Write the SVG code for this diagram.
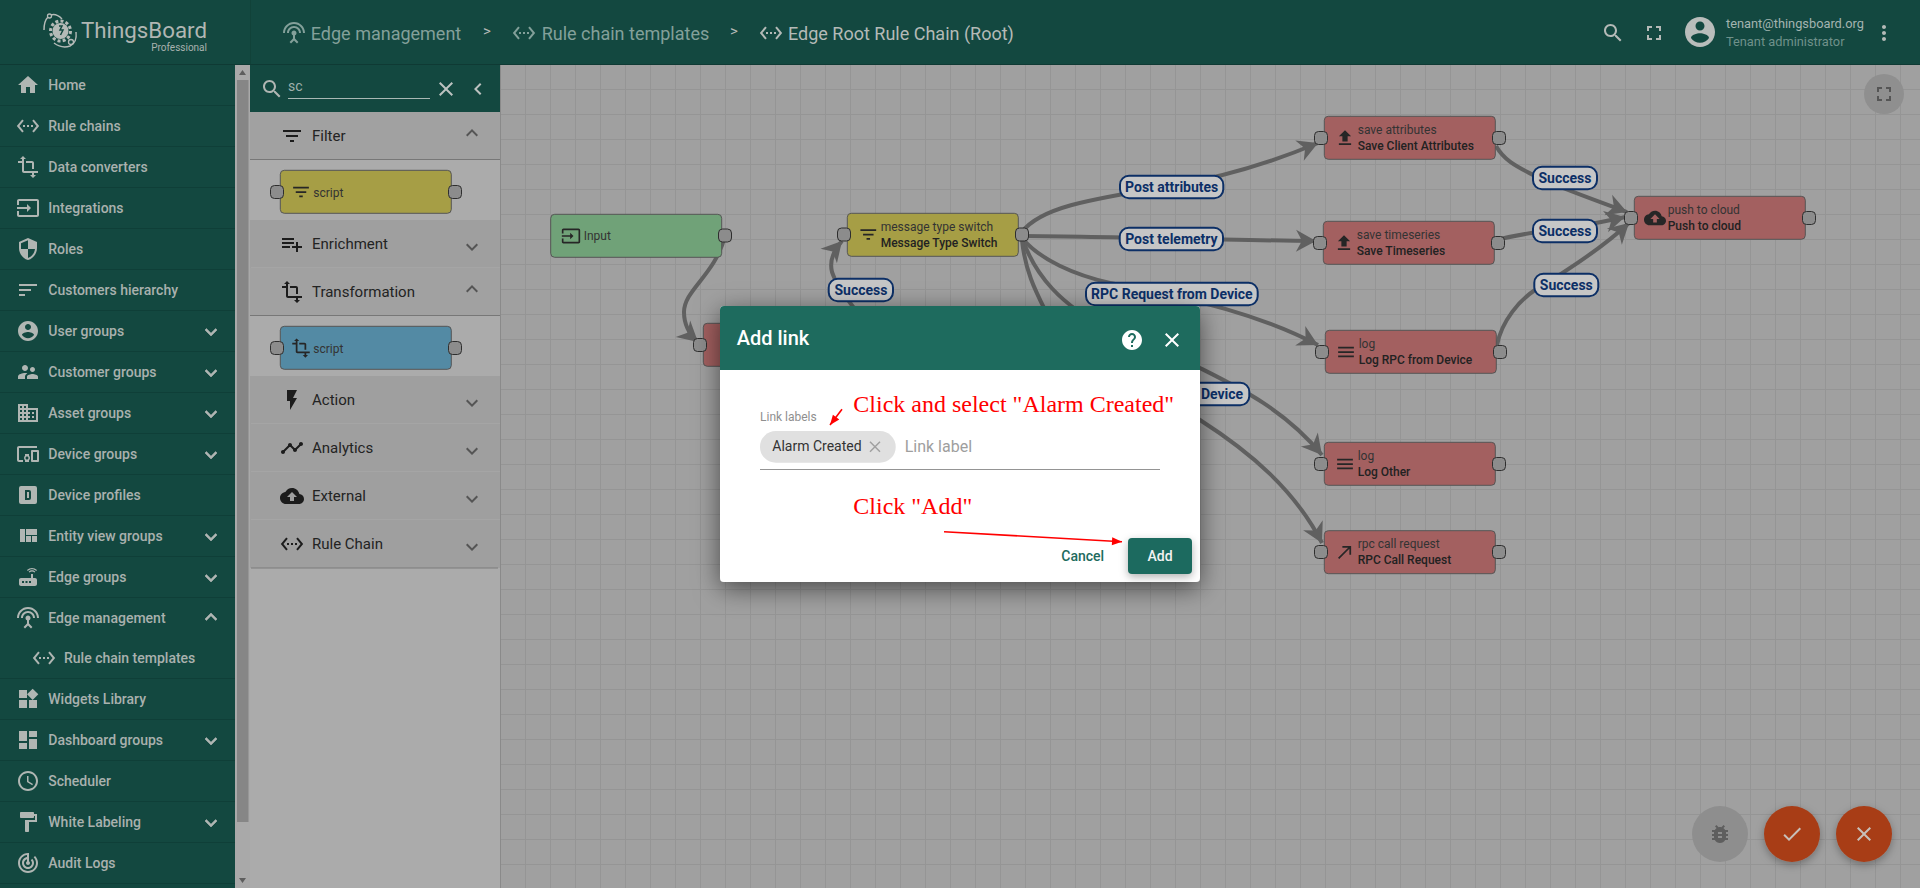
<svg xmlns="http://www.w3.org/2000/svg" width="1920" height="888" viewBox="0 0 1920 888">
<style>
text{font-family:Roboto,"Liberation Sans",sans-serif}
.nav{font-size:14px;font-weight:500;fill:#a9b1ae}
.sep{stroke:#0f3f38;stroke-width:1}
.ic{fill:#b0b6b3}
.chev{fill:#b0b6b3;stroke:#b0b6b3;stroke-width:.6}
.cat{font-size:15px;fill:#232323}
.ci{fill:#1c1c1c}
.cv{fill:#555}
.port{fill:#8c8c8c;stroke:#2e2e2e;stroke-width:1}
.nbody{stroke:#555;stroke-width:1}
.red{fill:#a36060}.yel{fill:#a69e45}.grn{fill:#70a278}.blu{fill:#538aa4}
.t1{font-size:12px;fill:#333}
.t2{font-size:12px;font-weight:500;fill:#222}
.ni{fill:#262626}
.edge{fill:none;stroke:#606060;stroke-width:4;marker-end:url(#ah)}
.lab rect{fill:#c6c6c6;stroke:#0c2f66;stroke-width:2}
.lab text{font-size:14px;font-weight:700;fill:#0c2f66;text-anchor:middle}
.note{font-family:"Liberation Serif",serif;font-size:24px;fill:#f00}
.anno{stroke:#f00;fill:none;stroke-width:1.6}
</style>
<defs>
<pattern id="grid" x="0" y="14" width="25" height="25" patternUnits="userSpaceOnUse"><path d="M0 .5H25M.5 0V25" fill="none" stroke="#959595" stroke-width="1"/></pattern>
<marker id="ah" markerUnits="userSpaceOnUse" orient="auto" markerWidth="24" markerHeight="26" refX="20" refY="12" overflow="visible"><path d="M20 12L0 1L6 12L0 23z" fill="#606060"/></marker>
<marker id="rh" markerUnits="userSpaceOnUse" orient="auto" markerWidth="12" markerHeight="10" refX="10" refY="4" overflow="visible"><path d="M10 4L0 0L0 8z" fill="#f00"/></marker>
<filter id="dlg" x="-15%" y="-20%" width="130%" height="140%"><feDropShadow dx="0" dy="6" stdDeviation="13" flood-color="#000" flood-opacity=".55"/></filter>
<filter id="fab" x="-30%" y="-30%" width="160%" height="170%"><feDropShadow dx="0" dy="3" stdDeviation="4" flood-color="#000" flood-opacity=".3"/></filter>
<symbol id="home" viewBox="0 0 24 24"><path d="M10 20v-6h4v6h5v-8h3L12 3 2 12h3v8z"/></symbol>
<symbol id="eth" viewBox="0 0 24 24"><path d="M7.77 6.76L6.23 5.48.82 12l5.41 6.52 1.54-1.28L3.42 12l4.35-5.24zM7 13h2v-2H7v2zm10-2h-2v2h2v-2zm-6 2h2v-2h-2v2zm6.77-7.52l-1.54 1.28L20.58 12l-4.35 5.24 1.54 1.28L23.18 12l-5.41-6.52z"/></symbol>
<symbol id="transform" viewBox="0 0 24 24"><path d="M22 18v-2H8V4h2L7 1 4 4h2v2H2v2h4v8c0 1.1.9 2 2 2h8v2h-2l3 3 3-3h-2v-2h4zM10 8h6v6h2V8c0-1.1-.9-2-2-2h-6v2z"/></symbol>
<symbol id="input" viewBox="0 0 24 24"><path d="M21 3.01H3c-1.1 0-2 .9-2 2V9h2V4.99h18v14.03H3V15H1v4.01c0 1.1.9 1.98 2 1.98h18c1.1 0 2-.88 2-1.98v-14c0-1.11-.9-2-2-2zM11 16l4-4-4-4v3H1v2h10v3z"/></symbol>
<symbol id="security" viewBox="0 0 24 24"><path d="M12 1L3 5v6c0 5.55 3.84 10.74 9 12 5.16-1.26 9-6.45 9-12V5l-9-4zm0 10.99h7c-.53 4.12-3.28 7.79-7 8.94V12H5V6.3l7-3.11v8.8z"/></symbol>
<symbol id="sort" viewBox="0 0 24 24"><path d="M3 18h6v-2H3v2zM3 6v2h18V6H3zm0 7h12v-2H3v2z"/></symbol>
<symbol id="acct" viewBox="0 0 24 24"><path d="M12 2C6.48 2 2 6.48 2 12s4.48 10 10 10 10-4.48 10-10S17.52 2 12 2zm0 3c1.66 0 3 1.34 3 3s-1.34 3-3 3-3-1.34-3-3 1.34-3 3-3zm0 14.2c-2.5 0-4.71-1.28-6-3.22.03-1.99 4-3.08 6-3.08 1.99 0 5.97 1.09 6 3.08-1.29 1.94-3.5 3.22-6 3.22z"/></symbol>
<symbol id="super" viewBox="0 0 24 24"><path d="M16.5 12c1.38 0 2.49-1.12 2.49-2.5S17.88 7 16.5 7C15.12 7 14 8.12 14 9.5s1.12 2.5 2.5 2.5zM9 11c1.66 0 2.99-1.34 2.99-3S10.66 5 9 5C7.34 5 6 6.34 6 8s1.34 3 3 3zm7.5 3c-1.83 0-5.5.92-5.5 2.75V19h11v-2.25c0-1.83-3.67-2.75-5.5-2.75zM9 13c-2.33 0-7 1.17-7 3.5V19h7v-2.25c0-.85.33-2.34 2.37-3.47C10.5 13.1 9.66 13 9 13z"/></symbol>
<symbol id="domain" viewBox="0 0 24 24"><path d="M12 7V3H2v18h20V7H12zM6 19H4v-2h2v2zm0-4H4v-2h2v2zm0-4H4V9h2v2zm0-4H4V5h2v2zm4 12H8v-2h2v2zm0-4H8v-2h2v2zm0-4H8V9h2v2zm0-4H8V5h2v2zm10 12h-8v-2h2v-2h-2v-2h2v-2h-2V9h8v10zm-2-8h-2v2h2v-2zm0 4h-2v2h2v-2z"/></symbol>
<symbol id="devices" viewBox="0 0 24 24"><path d="M3 6h18V4H3c-1.1 0-2 .9-2 2v12c0 1.1.9 2 2 2h4v-2H3V6zm10 6H9v1.78c-.61.55-1 1.33-1 2.22s.39 1.67 1 2.22V20h4v-1.78c.61-.55 1-1.34 1-2.22s-.39-1.67-1-2.22V12zm-2 5.5c-.83 0-1.5-.67-1.5-1.5s.67-1.5 1.5-1.5 1.5.67 1.5 1.5-.67 1.5-1.5 1.5zM22 8h-6c-.5 0-1 .5-1 1v10c0 .5.5 1 1 1h6c.5 0 1-.5 1-1V9c0-.5-.5-1-1-1zm-1 10h-4v-8h4v8z"/></symbol>
<symbol id="dbox" viewBox="0 0 24 24"><path fill-rule="evenodd" d="M5 3h14a2 2 0 0 1 2 2v14a2 2 0 0 1-2 2H5a2 2 0 0 1-2-2V5a2 2 0 0 1 2-2zm4 4v10h4a2 2 0 0 0 2-2V9a2 2 0 0 0-2-2H9zm2 2h2v6h-2V9z"/></symbol>
<symbol id="quilt" viewBox="0 0 24 24"><path d="M10 18h5v-6h-5v6zm-6 0h5V5H4v13zm12 0h5v-6h-5v6zM10 5v6h11V5H10z"/></symbol>
<symbol id="router" viewBox="0 0 24 24"><path d="M20.2 5.9l.8-.8C19.6 3.7 17.8 3 16 3s-3.6.7-5 2.1l.8.8C13 4.8 14.5 4.2 16 4.2s3 .6 4.2 1.7zm-.9.8c-.9-.9-2.1-1.4-3.3-1.4s-2.4.5-3.3 1.4l.8.8c.7-.7 1.6-1 2.5-1 .9 0 1.8.3 2.5 1l.8-.8zM19 13h-2V9h-2v4H5c-1.1 0-2 .9-2 2v4c0 1.1.9 2 2 2h14c1.1 0 2-.9 2-2v-4c0-1.1-.9-2-2-2zM8 18H6v-2h2v2zm3.5 0h-2v-2h2v2zm3.5 0h-2v-2h2v2z"/></symbol>
<symbol id="antenna" viewBox="0 0 24 24"><path d="M12 5c-3.87 0-7 3.13-7 7h2c0-2.76 2.24-5 5-5s5 2.24 5 5h2c0-3.87-3.13-7-7-7zm1 9.29c.88-.39 1.5-1.26 1.5-2.29 0-1.38-1.12-2.5-2.5-2.5S9.5 10.62 9.5 12c0 1.02.62 1.9 1.5 2.29v3.3L7.59 21 9 22.41l3-3 3 3L16.41 21 13 17.59v-3.3zM12 1C5.93 1 1 5.93 1 12h2c0-4.97 4.03-9 9-9s9 4.03 9 9h2c0-6.07-4.93-11-11-11z"/></symbol>
<symbol id="widgets" viewBox="0 0 24 24"><path d="M13 13v8h8v-8h-8zM3 21h8v-8H3v8zM3 3v8h8V3H3zm13.66-1.31L11 7.34 16.66 13l5.66-5.66-5.66-5.65z"/></symbol>
<symbol id="dash" viewBox="0 0 24 24"><path d="M3 13h8V3H3v10zm0 8h8v-6H3v6zm10 0h8V11h-8v10zm0-18v6h8V3h-8z"/></symbol>
<symbol id="sched" viewBox="0 0 24 24"><path d="M11.99 2C6.47 2 2 6.48 2 12s4.47 10 9.99 10C17.52 22 22 17.52 22 12S17.52 2 11.99 2zM12 20c-4.42 0-8-3.58-8-8s3.58-8 8-8 8 3.58 8 8-3.58 8-8 8zm.5-13H11v6l5.25 3.15.75-1.23-4.5-2.67z"/></symbol>
<symbol id="paint" viewBox="0 0 24 24"><path d="M18 4V3c0-.55-.45-1-1-1H5c-.55 0-1 .45-1 1v4c0 .55.45 1 1 1h12c.55 0 1-.45 1-1V6h1v4H9v11c0 .55.45 1 1 1h2c.55 0 1-.45 1-1v-9h8V4h-3z"/></symbol>
<symbol id="track" viewBox="0 0 24 24"><path d="M19.07 4.93l-1.41 1.41C19.1 7.79 20 9.79 20 12c0 4.42-3.58 8-8 8s-8-3.58-8-8c0-4.08 3.05-7.44 7-7.93v2.02C8.16 6.57 6 9.03 6 12c0 3.31 2.69 6 6 6s6-2.69 6-6c0-1.66-.67-3.16-1.76-4.24l-1.41 1.41C15.55 9.9 16 10.9 16 12c0 2.21-1.79 4-4 4s-4-1.79-4-4c0-1.86 1.28-3.41 3-3.86v2.14c-.6.35-1 .98-1 1.72 0 1.1.9 2 2 2s2-.9 2-2c0-.74-.4-1.38-1-1.72V2h-1C6.48 2 2 6.48 2 12s4.48 10 10 10 10-4.48 10-10c0-2.76-1.12-5.26-2.93-7.07z"/></symbol>
<symbol id="more" viewBox="0 0 24 24"><path d="M16.59 8.59L12 13.17 7.41 8.59 6 10l6 6 6-6z"/></symbol>
<symbol id="less" viewBox="0 0 24 24"><path d="M12 8l-6 6 1.41 1.41L12 10.83l4.59 4.58L18 14z"/></symbol>
<symbol id="filter" viewBox="0 0 24 24"><path d="M10 18h4v-2h-4v2zM3 6v2h18V6H3zm3 7h12v-2H6v2z"/></symbol>
<symbol id="padd" viewBox="0 0 24 24"><path d="M14 10H2v2h12v-2zm0-4H2v2h12V6zm4 8v-4h-2v4h-4v2h4v4h2v-4h4v-2h-4zM2 16h8v-2H2v2z"/></symbol>
<symbol id="flash" viewBox="0 0 24 24"><path d="M7 2v11h3v9l7-12h-4l4-8z"/></symbol>
<symbol id="timeline" viewBox="0 0 24 24"><path d="M23 8c0 1.1-.9 2-2 2-.18 0-.35-.02-.51-.07l-3.56 3.55c.05.16.07.34.07.52 0 1.1-.9 2-2 2s-2-.9-2-2c0-.18.02-.36.07-.52l-2.55-2.55c-.16.05-.34.07-.52.07s-.36-.02-.52-.07l-4.55 4.56c.05.16.07.33.07.51 0 1.1-.9 2-2 2s-2-.9-2-2 .9-2 2-2c.18 0 .35.02.51.07l4.56-4.55C8.02 9.36 8 9.18 8 9c0-1.1.9-2 2-2s2 .9 2 2c0 .18-.02.36-.07.52l2.55 2.55c.16-.05.34-.07.52-.07s.36.02.52.07l3.55-3.56C19.02 8.35 19 8.18 19 8c0-1.1.9-2 2-2s2 .9 2 2z"/></symbol>
<symbol id="cloud" viewBox="0 0 24 24"><path d="M19.35 10.04C18.67 6.59 15.64 4 12 4 9.11 4 6.6 5.64 5.35 8.04 2.34 8.36 0 10.91 0 14c0 3.31 2.69 6 6 6h13c2.76 0 5-2.24 5-5 0-2.64-2.05-4.78-4.65-4.96zM14 13v4h-4v-4H7l5-5 5 5h-3z"/></symbol>
<symbol id="search" viewBox="0 0 24 24"><path d="M15.5 14h-.79l-.28-.27C15.41 12.59 16 11.11 16 9.5 16 5.91 13.09 3 9.5 3S3 5.91 3 9.5 5.91 16 9.5 16c1.61 0 3.09-.59 4.23-1.57l.27.28v.79l5 4.99L20.49 19l-4.99-5zm-6 0C7.01 14 5 11.99 5 9.5S7.01 5 9.5 5 14 7.01 14 9.5 11.99 14 9.5 14z"/></symbol>
<symbol id="close" viewBox="0 0 24 24"><path d="M19 6.41L17.59 5 12 10.59 6.41 5 5 6.41 10.59 12 5 17.59 6.41 19 12 13.41 17.59 19 19 17.59 13.41 12z"/></symbol>
<symbol id="cleft" viewBox="0 0 24 24"><path d="M15.41 7.41L14 6l-6 6 6 6 1.41-1.41L10.83 12z"/></symbol>
<symbol id="full" viewBox="0 0 24 24"><path d="M7 14H5v5h5v-2H7v-3zm-2-4h2V7h3V5H5v5zm12 7h-3v2h5v-5h-2v3zM14 5v2h3v3h2V5h-5z"/></symbol>
<symbol id="vert" viewBox="0 0 24 24"><path d="M12 8c1.1 0 2-.9 2-2s-.9-2-2-2-2 .9-2 2 .9 2 2 2zm0 2c-1.1 0-2 .9-2 2s.9 2 2 2 2-.9 2-2-.9-2-2-2zm0 6c-1.1 0-2 .9-2 2s.9 2 2 2 2-.9 2-2-.9-2-2-2z"/></symbol>
<symbol id="upload" viewBox="0 0 24 24"><path d="M9 16h6v-6h4l-7-7-7 7h4zm-4 2h14v2H5z"/></symbol>
<symbol id="menu" viewBox="0 0 24 24"><path d="M3 18h18v-2H3v2zm0-5h18v-2H3v2zm0-7v2h18V6H3z"/></symbol>
<symbol id="callm" viewBox="0 0 24 24"><path d="M9 5v2h6.59L4 18.59 5.41 20 17 8.41V15h2V5z"/></symbol>
<symbol id="help" viewBox="0 0 24 24"><path d="M12 2C6.48 2 2 6.48 2 12s4.48 10 10 10 10-4.48 10-10S17.52 2 12 2zm1 17h-2v-2h2v2zm2.07-7.75l-.9.92C13.45 12.9 13 13.5 13 15h-2v-.5c0-1.1.45-2.1 1.17-2.83l1.24-1.26c.37-.36.59-.86.59-1.41 0-1.1-.9-2-2-2s-2 .9-2 2H8c0-2.21 1.79-4 4-4s4 1.79 4 4c0 .88-.36 1.68-.93 2.25z"/></symbol>
<symbol id="bug" viewBox="0 0 24 24"><path d="M20 8h-2.81c-.45-.78-1.07-1.45-1.82-1.96L17 4.41 15.59 3l-2.17 2.17C12.96 5.06 12.49 5 12 5c-.49 0-.96.06-1.41.17L8.41 3 7 4.41l1.62 1.63C7.88 6.55 7.26 7.22 6.81 8H4v2h2.09c-.05.33-.09.66-.09 1v1H4v2h2v1c0 .34.04.67.09 1H4v2h2.81c1.04 1.79 2.97 3 5.19 3s4.15-1.21 5.19-3H20v-2h-2.09c.05-.33.09-.66.09-1v-1h2v-2h-2v-1c0-.34-.04-.67-.09-1H20V8zm-6 8h-4v-2h4v2zm0-4h-4v-2h4v2z"/></symbol>
<symbol id="done" viewBox="0 0 24 24"><path d="M9 16.17L4.83 12l-1.42 1.41L9 19 21 7l-1.41-1.41z"/></symbol>
</defs>

<rect id="canvas" x="500" y="64" width="1420" height="824" fill="#a0a0a0"/>
<rect x="500" y="64" width="1420" height="824" fill="url(#grid)"/>

<g id="connectors">
<path class="edge" d="M725 236C715 275 684 290 684 312C684 325 690 335 698 342"/>
<path class="edge" d="M880 345C860 312 840 295 832 272C829 260 834 250 842 241"/>
<path class="edge" d="M1022 232C1040 208 1085 200 1170 186C1225 177 1270 163 1318 143"/>
<path class="edge" d="M1022 236C1080 236 1220 240 1316 241"/>
<path class="edge" d="M1022 238C1040 260 1075 275 1110 283C1200 300 1260 315 1318 345"/>
<path class="edge" d="M1022 238C1035 275 1060 305 1110 330C1140 344 1170 353 1200 368C1240 388 1285 410 1322 455"/>
<path class="edge" d="M1022 240C1025 270 1035 290 1045 310C1100 350 1150 388 1200 420C1250 452 1295 490 1322 543"/>
<path class="edge" d="M1496 146C1505 162 1520 168 1535 176C1555 186 1595 200 1627 212"/>
<path class="edge" d="M1498 240C1520 232 1570 230 1625 217"/>
<path class="edge" d="M1497 345C1502 320 1520 300 1535 290C1560 275 1600 250 1629 223"/>
</g>

<g id="node-input"><rect class="nbody grn" x="550.7" y="214.3" width="171" height="43" rx="4"/><rect class="port" x="718.5" y="229" width="13" height="13" rx="4"/><use href="#input" x="561" y="226" width="20" height="20" class="ni"/><text class="t1" x="583.7" y="240">Input</text></g>
<g id="node-hidden"><rect class="nbody red" x="703.3" y="323.3" width="171" height="43" rx="4"/><rect class="port" x="693.5" y="338.5" width="13" height="13" rx="4"/></g>
<g id="node-switch"><rect class="nbody yel" x="847.3" y="213.3" width="171" height="43" rx="4"/><rect class="port" x="837.5" y="228" width="13" height="13" rx="4"/><rect class="port" x="1015.5" y="228" width="13" height="13" rx="4"/><use href="#filter" x="857.8" y="224" width="21" height="21" class="ni"/><text class="t1" x="880.7" y="231">message type switch</text><text class="t2" x="880.7" y="247">Message Type Switch</text></g>
<g id="node-attrs"><rect class="nbody red" x="1324.3" y="116.3" width="171" height="43" rx="4"/><rect class="port" x="1314.5" y="131.5" width="13" height="13" rx="4"/><rect class="port" x="1492.5" y="131.5" width="13" height="13" rx="4"/><use href="#upload" x="1334.5" y="127.5" width="21" height="21" class="ni"/><text class="t1" x="1357.7" y="134">save attributes</text><text class="t2" x="1357.7" y="150">Save Client Attributes</text></g>
<g id="node-ts"><rect class="nbody red" x="1323.3" y="221.3" width="171" height="43" rx="4"/><rect class="port" x="1313.5" y="236.5" width="13" height="13" rx="4"/><rect class="port" x="1491.5" y="236.5" width="13" height="13" rx="4"/><use href="#upload" x="1333.5" y="232.5" width="21" height="21" class="ni"/><text class="t1" x="1356.7" y="239">save timeseries</text><text class="t2" x="1356.7" y="255">Save Timeseries</text></g>
<g id="node-logrpc"><rect class="nbody red" x="1325.3" y="330.3" width="171" height="43" rx="4"/><rect class="port" x="1315.5" y="345.5" width="13" height="13" rx="4"/><rect class="port" x="1493.5" y="345.5" width="13" height="13" rx="4"/><use href="#menu" x="1335.5" y="341.5" width="21" height="21" class="ni"/><text class="t1" x="1358.7" y="348">log</text><text class="t2" x="1358.7" y="364">Log RPC from Device</text></g>
<g id="node-logother"><rect class="nbody red" x="1324.3" y="442.3" width="171" height="43" rx="4"/><rect class="port" x="1314.5" y="457.5" width="13" height="13" rx="4"/><rect class="port" x="1492.5" y="457.5" width="13" height="13" rx="4"/><use href="#menu" x="1334.5" y="453.5" width="21" height="21" class="ni"/><text class="t1" x="1357.7" y="460">log</text><text class="t2" x="1357.7" y="476">Log Other</text></g>
<g id="node-rpccall"><rect class="nbody red" x="1324.3" y="530.7" width="171" height="43" rx="4"/><rect class="port" x="1314.5" y="545.5" width="13" height="13" rx="4"/><rect class="port" x="1492.5" y="545.5" width="13" height="13" rx="4"/><use href="#callm" x="1334.5" y="541.5" width="21" height="21" class="ni"/><text class="t1" x="1357.7" y="548">rpc call request</text><text class="t2" x="1357.7" y="564">RPC Call Request</text></g>
<g id="node-push"><rect class="nbody red" x="1634.3" y="196.3" width="171" height="43" rx="4"/><rect class="port" x="1624.5" y="211.5" width="13" height="13" rx="4"/><rect class="port" x="1802.5" y="211.5" width="13" height="13" rx="4"/><use href="#cloud" x="1644" y="207" width="22" height="22" class="ni"/><text class="t1" x="1667.7" y="214">push to cloud</text><text class="t2" x="1667.7" y="230">Push to cloud</text></g>

<g id="edge-labels">
<g class="lab"><rect x="828.7" y="278.7" width="64.3" height="22.6" rx="9"/><text x="861" y="295">Success</text></g>
<g class="lab"><rect x="1120" y="175.7" width="103.3" height="22.6" rx="9"/><text x="1171.7" y="192">Post attributes</text></g>
<g class="lab"><rect x="1119.7" y="227.7" width="103.3" height="22.6" rx="9"/><text x="1171.4" y="244">Post telemetry</text></g>
<g class="lab"><rect x="1086" y="282.7" width="171.7" height="22.6" rx="9"/><text x="1171.8" y="299">RPC Request from Device</text></g>
<g class="lab"><rect x="1100" y="382.7" width="149.3" height="22.6" rx="9"/><text x="1222" y="399">Device</text></g>
<g class="lab"><rect x="1533" y="166.7" width="64" height="22.6" rx="9"/><text x="1565" y="183">Success</text></g>
<g class="lab"><rect x="1533" y="219.7" width="64" height="22.6" rx="9"/><text x="1565" y="236">Success</text></g>
<g class="lab"><rect x="1534.3" y="273.7" width="64" height="22.6" rx="9"/><text x="1566.3" y="290">Success</text></g>
</g>

<g id="canvas-controls">
<circle cx="1884" cy="94" r="20" fill="#8f8f8f"/><use href="#full" x="1872" y="82" width="24" height="24" fill="#555"/>
<circle cx="1720" cy="834" r="28" fill="#8e8e8e"/><use href="#bug" x="1708" y="822" width="24" height="24" fill="#5e5e5e"/>
<circle cx="1792" cy="834" r="28" fill="#a83d17" filter="url(#fab)"/><use href="#done" x="1780" y="822" width="24" height="24" fill="#c8c0ba"/>
<circle cx="1864" cy="834" r="28" fill="#a83d17" filter="url(#fab)"/><use href="#close" x="1852" y="822" width="24" height="24" fill="#c8c0ba"/>
</g>

<g id="palette">
<rect x="250" y="64" width="250" height="824" fill="#ababab"/>
<rect x="250" y="64" width="250" height="48" fill="#134840"/>
<use href="#search" x="260" y="77" width="24" height="24" fill="#b0b6b3"/>
<text x="288" y="91" font-size="14" fill="#9fb0ac">sc</text>
<path d="M288 98.5H430" stroke="#a9b8b4" stroke-width="1"/>
<use href="#close" x="434" y="77" width="24" height="24" fill="#bcc2c0"/>
<use href="#cleft" x="466" y="77" width="24" height="24" fill="#bcc2c0"/>
<rect x="250" y="112" width="250" height="47" fill="#a1a1a1"/>
<path d="M250 159.5H500" stroke="#777"/>
<rect x="250" y="160" width="250" height="60" fill="#ababab"/>
<rect x="250" y="220" width="250" height="48" fill="#9f9f9f"/>
<rect x="250" y="268" width="250" height="47" fill="#a1a1a1"/>
<path d="M250 315.5H500" stroke="#777"/>
<rect x="250" y="316" width="250" height="60" fill="#ababab"/>
<rect x="250" y="376" width="250" height="192" fill="#9f9f9f"/>
<path d="M251 423.5H500M251 471.5H500M251 519.5H500M251 267.5H500" stroke="#a5a5a5"/>
<path d="M251 568H498" stroke="#7d7d7d" stroke-width="1.2"/>
<path d="M500.5 64V888" stroke="#8a8a8a"/>
<g id="cat-filter"><use href="#filter" x="280" y="124" width="24" height="24" class="ci"/><text class="cat" x="312" y="141">Filter</text><use href="#less" x="460" y="121" width="24" height="24" class="cv"/></g>
<g id="pal-script-filter"><rect class="nbody yel" x="280.3" y="170.3" width="171" height="43" rx="4"/><rect class="port" x="270.5" y="185.5" width="13" height="13" rx="4"/><rect class="port" x="448.5" y="185.5" width="13" height="13" rx="4"/><use href="#filter" x="290.5" y="181.5" width="21" height="21" class="ni"/><text class="t1" x="313.3" y="196.5">script</text></g>
<g id="cat-enrich"><use href="#padd" x="280" y="232" width="24" height="24" class="ci"/><text class="cat" x="312" y="249">Enrichment</text><use href="#more" x="460" y="235" width="24" height="24" class="cv"/></g>
<g id="cat-transform"><use href="#transform" x="280" y="280" width="24" height="24" class="ci"/><text class="cat" x="312" y="297">Transformation</text><use href="#less" x="460" y="277" width="24" height="24" class="cv"/></g>
<g id="pal-script-transform"><rect class="nbody blu" x="280.3" y="326.3" width="171" height="43" rx="4"/><rect class="port" x="270.5" y="341.5" width="13" height="13" rx="4"/><rect class="port" x="448.5" y="341.5" width="13" height="13" rx="4"/><use href="#transform" x="290.5" y="337.5" width="21" height="21" class="ni"/><text class="t1" x="313.3" y="352.5">script</text></g>
<g id="cat-action"><use href="#flash" x="280" y="388" width="24" height="24" class="ci"/><text class="cat" x="312" y="405">Action</text><use href="#more" x="460" y="391" width="24" height="24" class="cv"/></g>
<g id="cat-analytics"><use href="#timeline" x="280" y="436" width="24" height="24" class="ci"/><text class="cat" x="312" y="453">Analytics</text><use href="#more" x="460" y="439" width="24" height="24" class="cv"/></g>
<g id="cat-external"><use href="#cloud" x="280" y="484" width="24" height="24" class="ci"/><text class="cat" x="312" y="501">External</text><use href="#more" x="460" y="487" width="24" height="24" class="cv"/></g>
<g id="cat-rulechain"><use href="#eth" x="280" y="532" width="24" height="24" class="ci"/><text class="cat" x="312" y="549">Rule Chain</text><use href="#more" x="460" y="535" width="24" height="24" class="cv"/></g>
</g>

<g id="sidebar">
<rect x="0" y="0" width="235" height="888" fill="#134840"/>
<rect x="235" y="64" width="15" height="824" fill="#a9a9a9"/>
<rect x="237" y="80" width="11.5" height="742" fill="#868686"/>
<path d="M242.5 70L239 75H246zM242.5 883L239 878H246z" fill="#5e5e5e"/>
<path class="sep" d="M0 64.5H235M0 105.5H235M0 146.5H235M0 187.5H235M0 228.5H235M0 269.5H235M0 310.5H235M0 351.5H235M0 392.5H235M0 433.5H235M0 474.5H235M0 515.5H235M0 556.5H235M0 597.5H235M0 678.5H235M0 719.5H235M0 760.5H235M0 801.5H235M0 842.5H235M0 883.5H235"/>
<g id="nav-home"><use href="#home" x="16" y="73" width="24" height="24" class="ic"/><text class="nav" x="48.3" y="90">Home</text></g>
<g id="nav-rulechains"><use href="#eth" x="16" y="114" width="24" height="24" class="ic"/><text class="nav" x="48.3" y="131">Rule chains</text></g>
<g id="nav-converters"><use href="#transform" x="16" y="155" width="24" height="24" class="ic"/><text class="nav" x="48.3" y="172">Data converters</text></g>
<g id="nav-integrations"><use href="#input" x="16" y="196" width="24" height="24" class="ic"/><text class="nav" x="48.3" y="213">Integrations</text></g>
<g id="nav-roles"><use href="#security" x="16" y="237" width="24" height="24" class="ic"/><text class="nav" x="48.3" y="254">Roles</text></g>
<g id="nav-hierarchy"><use href="#sort" x="16" y="278" width="24" height="24" class="ic"/><text class="nav" x="48.3" y="295">Customers hierarchy</text></g>
<g id="nav-users"><use href="#acct" x="16" y="319" width="24" height="24" class="ic"/><text class="nav" x="48.3" y="336">User groups</text><use href="#more" x="199" y="320" width="24" height="24" class="chev"/></g>
<g id="nav-customers"><use href="#super" x="16" y="360" width="24" height="24" class="ic"/><text class="nav" x="48.3" y="377">Customer groups</text><use href="#more" x="199" y="361" width="24" height="24" class="chev"/></g>
<g id="nav-assets"><use href="#domain" x="16" y="401" width="24" height="24" class="ic"/><text class="nav" x="48.3" y="418">Asset groups</text><use href="#more" x="199" y="402" width="24" height="24" class="chev"/></g>
<g id="nav-devices"><use href="#devices" x="16" y="442" width="24" height="24" class="ic"/><text class="nav" x="48.3" y="459">Device groups</text><use href="#more" x="199" y="443" width="24" height="24" class="chev"/></g>
<g id="nav-profiles"><use href="#dbox" x="16" y="483" width="24" height="24" class="ic"/><text class="nav" x="48.3" y="500">Device profiles</text></g>
<g id="nav-entity"><use href="#quilt" x="16" y="524" width="24" height="24" class="ic"/><text class="nav" x="48.3" y="541">Entity view groups</text><use href="#more" x="199" y="525" width="24" height="24" class="chev"/></g>
<g id="nav-edge"><use href="#router" x="16" y="565" width="24" height="24" class="ic"/><text class="nav" x="48.3" y="582">Edge groups</text><use href="#more" x="199" y="566" width="24" height="24" class="chev"/></g>
<g id="nav-edgemgmt"><use href="#antenna" x="16" y="606" width="24" height="24" class="ic"/><text class="nav" x="48.3" y="623">Edge management</text><use href="#less" x="199" y="605" width="24" height="24" class="chev"/></g>
<g id="nav-templates"><use href="#eth" x="32" y="646" width="24" height="24" class="ic"/><text class="nav" x="64" y="663">Rule chain templates</text></g>
<g id="nav-widgets"><use href="#widgets" x="16" y="687" width="24" height="24" class="ic"/><text class="nav" x="48.3" y="704">Widgets Library</text></g>
<g id="nav-dash"><use href="#dash" x="16" y="728" width="24" height="24" class="ic"/><text class="nav" x="48.3" y="745">Dashboard groups</text><use href="#more" x="199" y="729" width="24" height="24" class="chev"/></g>
<g id="nav-sched"><use href="#sched" x="16" y="769" width="24" height="24" class="ic"/><text class="nav" x="48.3" y="786">Scheduler</text></g>
<g id="nav-white"><use href="#paint" x="16" y="810" width="24" height="24" class="ic"/><text class="nav" x="48.3" y="827">White Labeling</text><use href="#more" x="199" y="811" width="24" height="24" class="chev"/></g>
<g id="nav-audit"><use href="#track" x="16" y="851" width="24" height="24" class="ic"/><text class="nav" x="48.3" y="868">Audit Logs</text></g>
</g>

<g id="topbar">
<rect x="0" y="0" width="1920" height="64" fill="#134840"/>
<path d="M0 64.5H1920" stroke="#0f3a34"/>
<path d="M250.5 0V64" stroke="#114239"/>
<g id="logo">
<circle cx="60.5" cy="31" r="8" fill="#b4bab7"/><circle cx="60.5" cy="31" r="10" fill="none" stroke="#b4bab7" stroke-width="3" stroke-dasharray="3 2.2"/>
<path d="M59 26l3 0-2 4 3 0-2.500 5" fill="none" stroke="#134840" stroke-width="1.500"/>
<path d="M44 30C44 24 46 19 48 17M51 15C54 14 58 15 62 19M76 32C77 41 74 44 70 46C64 48 58 46 54 43" fill="none" stroke="#b4bab7" stroke-width="1.500"/>
<circle cx="49.500" cy="16" r="2" fill="none" stroke="#b4bab7" stroke-width="1.300"/><circle cx="71" cy="42" r="2.500" fill="none" stroke="#b4bab7" stroke-width="1.300"/>
<text x="81" y="38" font-size="22" textLength="126" lengthAdjust="spacingAndGlyphs" fill="#b0b6b3">ThingsBoard</text>
<text x="207" y="50.500" font-size="10" fill="#a9b2af" text-anchor="end">Professional</text>
</g>
<g id="breadcrumbs">
<use href="#antenna" x="282" y="21" width="24" height="24" fill="#83a09a"/>
<text x="310.8" y="40" font-size="18" fill="#83a09a">Edge management</text>
<text x="483" y="36" font-size="15" fill="#b4bab7">&gt;</text>
<use href="#eth" x="512" y="21" width="24" height="24" fill="#83a09a"/>
<text x="541.7" y="40" font-size="18" fill="#83a09a">Rule chain templates</text>
<text x="730" y="36" font-size="15" fill="#b4bab7">&gt;</text>
<use href="#eth" x="759" y="21" width="24" height="24" fill="#b4bab7"/>
<text x="788" y="40" font-size="18" fill="#b4bab7">Edge Root Rule Chain (Root)</text>
</g>
<g id="user">
<use href="#search" x="1601" y="21" width="24" height="24" fill="#b4bab7"/>
<use href="#full" x="1642" y="21" width="24" height="24" fill="#b4bab7"/>
<use href="#acct" x="1682" y="14" width="36" height="36" fill="#b9bdbb"/>
<text x="1726" y="27.5" font-size="12.800" fill="#a3b4b0">tenant@thingsboard.org</text>
<text x="1726" y="46" font-size="12.800" fill="#6f918a">Tenant administrator</text>
<use href="#vert" x="1872" y="21" width="24" height="24" fill="#b4bab7"/>
</g>
</g>

<g id="dialog">
<rect x="720" y="306" width="480" height="276" rx="4" fill="#fff" filter="url(#dlg)"/>
<path d="M720 370V310a4 4 0 0 1 4-4H1196a4 4 0 0 1 4 4V370z" fill="#1e6b5e"/>
<text x="736.7" y="345" font-size="20" font-weight="500" fill="#fff">Add link</text>
<use href="#help" x="1120" y="328" width="24" height="24" fill="#fff"/>
<use href="#close" x="1160" y="328" width="24" height="24" fill="#fff"/>
<text x="760" y="420.7" font-size="12" fill="#8f8f8f">Link labels</text>
<rect x="760" y="431" width="135.7" height="31.7" rx="15.8" fill="#e0e0e0"/>
<text x="772.3" y="450.7" font-size="14" fill="#333">Alarm Created</text>
<path d="M870 441.7L880 451.7M880 441.7L870 451.7" stroke="#a0a0a0" stroke-width="1.5"/>
<text x="904.7" y="451.7" font-size="16" fill="#9e9e9e">Link label</text>
<path d="M760 469.5H1160" stroke="#949494"/>
<text class="note" x="853.3" y="412">Click and select "Alarm Created"</text>
<text class="note" x="853.3" y="513.5">Click "Add"</text>
<path class="anno" d="M842 409.3L830 425" marker-end="url(#rh)"/>
<path class="anno" d="M944 531.7L1122 541.7" marker-end="url(#rh)"/>
<text x="1061.3" y="561" font-size="14" font-weight="500" fill="#1e6b5e">Cancel</text>
<rect x="1128" y="538" width="64" height="36" rx="4" fill="#1e6b5e" filter="url(#fab)"/>
<text x="1160" y="561" font-size="14" font-weight="500" fill="#f2f2f2" text-anchor="middle">Add</text>
</g>
</svg>
